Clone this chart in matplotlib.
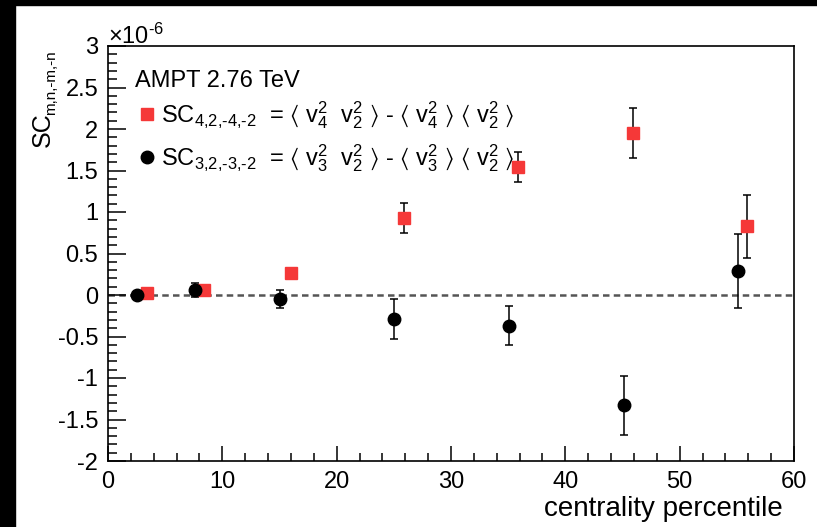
import matplotlib
matplotlib.use("Agg")
import matplotlib.pyplot as plt
from matplotlib.ticker import MultipleLocator, FixedLocator
from matplotlib.patches import Rectangle

plt.rcParams['font.family'] = ['Liberation Sans', 'DejaVu Sans']
plt.rcParams['mathtext.fontset'] = 'custom'
plt.rcParams['mathtext.rm'] = 'Liberation Sans'
plt.rcParams['mathtext.it'] = 'Liberation Sans:italic'
plt.rcParams['mathtext.default'] = 'regular'

# Data (values in units of 1e-6)
x_sc42 = [3.4, 8.4, 16.0, 25.9, 35.9, 45.9, 55.9]
y_sc42 = [0.03, 0.06, 0.26, 0.93, 1.54, 1.95, 0.83]
e_sc42 = [0.02, 0.03, 0.06, 0.18, 0.18, 0.30, 0.38]

x_sc32 = [2.5, 7.6, 15.0, 25.0, 35.1, 45.1, 55.1]
y_sc32 = [0.0, 0.06, -0.05, -0.29, -0.37, -1.33, 0.29]
e_sc32 = [0.03, 0.08, 0.11, 0.24, 0.235, 0.355, 0.45]

xlim = (0, 60)
ylim = (-2, 3)
yticks = [-2, -1.5, -1, -0.5, 0, 0.5, 1, 1.5, 2, 2.5, 3]
ytick_labels = ['-2', '-1.5', '-1', '-0.5', '0', '0.5', '1', '1.5', '2', '2.5', '3']
xticks = [0, 10, 20, 30, 40, 50, 60]

W, H = 817, 527
fig = plt.figure(figsize=(W / 100, H / 100), dpi=100)
fig.patch.set_facecolor('white')
# black borders
fig.patches.append(Rectangle((0, 0), 15 / W, 1, transform=fig.transFigure,
                             color='black', zorder=-10))
fig.patches.append(Rectangle((0, 1 - 5 / H), 1, 5 / H, transform=fig.transFigure,
                             color='black', zorder=-10))

ax = fig.add_axes([108 / W, (H - 461) / H, (794 - 108) / W, (461 - 46) / H])
ax.set_xlim(*xlim)
ax.set_ylim(*ylim)

red = '#f53838'
ax.axhline(0, color='#555555', lw=1.8, dashes=(2.6, 1.7), zorder=1)

ax.errorbar(x_sc42, y_sc42, yerr=e_sc42, fmt='s', color=red, ms=8.8,
            mec=red, ecolor='black', elinewidth=1.1, capsize=2.8, capthick=1.1, zorder=3)
ax.errorbar(x_sc32, y_sc32, yerr=e_sc32, fmt='o', color='black', ms=9.0,
            ecolor='black', elinewidth=1.1, capsize=2.8, capthick=1.1, zorder=3)

ax.yaxis.set_major_locator(FixedLocator(yticks))
ax.set_yticklabels(ytick_labels)
ax.yaxis.set_minor_locator(MultipleLocator(0.1))
ax.xaxis.set_major_locator(FixedLocator(xticks))
ax.xaxis.set_minor_locator(MultipleLocator(2))

ax.tick_params(axis='y', which='major', direction='in', length=13, width=1.1,
               labelsize=17, pad=7, right=False)
ax.tick_params(axis='y', which='minor', direction='in', length=6.5, width=1.1, right=False)
ax.tick_params(axis='x', which='major', direction='in', length=11, width=1.1,
               labelsize=17, pad=7, top=False)
ax.tick_params(axis='x', which='minor', direction='in', length=5.5, width=1.1, top=False)
for s in ax.spines.values():
    s.set_linewidth(1.2)

ax.set_xlabel('centrality percentile', fontsize=20, ha='right')
ax.xaxis.set_label_coords((783 - 108) / (794 - 108), -0.085)

# y-axis title: SC with small subscript
fig.text(50 / W, 1 - 147 / H, 'SC', fontsize=18, rotation=90,
         rotation_mode='anchor', ha='left', va='baseline')
fig.text(55 / W, 1 - 115 / H, 'm,n,-m,-n', fontsize=11, rotation=90,
         rotation_mode='anchor', ha='left', va='baseline')

fig.text(108 / W, 1 - 44 / H, r'×10$^\text{-6}$', fontsize=17, ha='left', va='baseline')

# legend-like text block
fig.text(135 / W, 1 - 87 / H, 'AMPT 2.76 TeV', fontsize=17, ha='left', va='baseline')
fig.add_artist(plt.Line2D([147 / W], [1 - 114 / H], marker='s', color=red, ms=8.8,
                          transform=fig.transFigure))
fig.add_artist(plt.Line2D([147 / W], [1 - 157 / H], marker='o', color='black', ms=9.0,
                          transform=fig.transFigure))
fig.text(161 / W, 1 - 122 / H,
         r'SC$_\text{4,2,-4,-2}$  = $\langle$ v$_4^2$  v$_2^2$ $\rangle$ - $\langle$ v$_4^2$ $\rangle$ $\langle$ v$_2^2$ $\rangle$',
         fontsize=17, ha='left', va='baseline')
fig.text(161 / W, 1 - 165 / H,
         r'SC$_\text{3,2,-3,-2}$  = $\langle$ v$_3^2$  v$_2^2$ $\rangle$ - $\langle$ v$_3^2$ $\rangle$ $\langle$ v$_2^2$ $\rangle$',
         fontsize=17, ha='left', va='baseline')

fig.savefig('out.png', dpi=100)
